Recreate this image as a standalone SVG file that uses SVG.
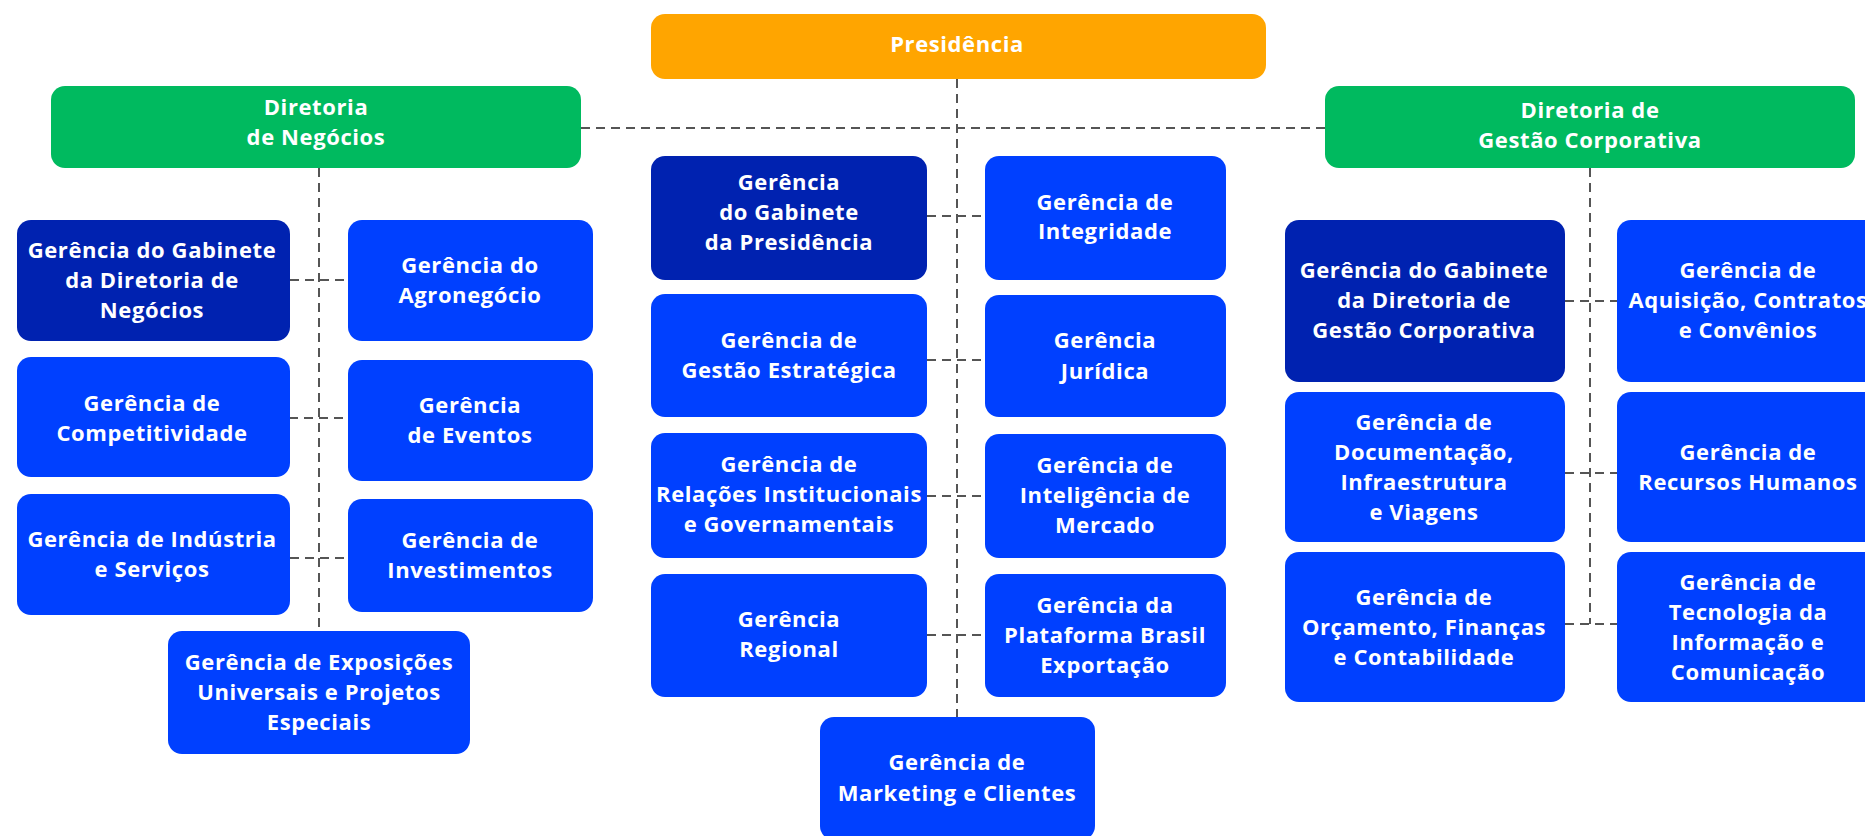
<svg xmlns="http://www.w3.org/2000/svg" width="1865" height="836" viewBox="0 0 1865 836">
<style>
.t{font-family:"Open Sans","Liberation Sans",sans-serif;font-weight:700;font-size:22px;fill:#fff;text-anchor:middle;letter-spacing:0.6px}
.or{fill:#FFA500}.gr{fill:#00BA5F}.dk{fill:#0022B0}.bl{fill:#0040FF}
.c{stroke:#555;stroke-width:2;stroke-dasharray:9 6;fill:none}
</style>
<rect width="1865" height="836" fill="#fff"/>
<g id="connectors">
<path class="c" d="M581 128H1325"/>
<path class="c" d="M957 79V717"/>
<path class="c" d="M927 216H985M927 360H985M927 496H985M927 635H985"/>
<path class="c" d="M319 168V631"/>
<path class="c" d="M290 280H348M289 418H348M290 558H348"/>
<path class="c" d="M1590 168V624"/>
<path class="c" d="M1565 301H1617M1565 473H1617M1565 624H1617"/>
</g>
<g id="presidencia"><rect class="or" x="651" y="14" width="615" height="65" rx="14"/><text class="t" x="957" y="52">Presidência</text></g>
<g id="dir-negocios"><rect class="gr" x="51" y="86" width="530" height="82" rx="14"/><text class="t" x="316" y="115">Diretoria</text><text class="t" x="316" y="145">de Negócios</text></g>
<g id="dir-gestao"><rect class="gr" x="1325" y="86" width="530" height="82" rx="14"/><text class="t" x="1590" y="118">Diretoria de</text><text class="t" x="1590" y="148">Gestão Corporativa</text></g>

<g id="gab-dir-negocios"><rect class="dk" x="17" y="220" width="273" height="121" rx="14"/><text class="t" x="152" y="258">Gerência do Gabinete</text><text class="t" x="152" y="288">da Diretoria de</text><text class="t" x="152" y="318">Negócios</text></g>
<g id="agronegocio"><rect class="bl" x="348" y="220" width="245" height="121" rx="14"/><text class="t" x="470" y="273">Gerência do</text><text class="t" x="470" y="303">Agronegócio</text></g>
<g id="competitividade"><rect class="bl" x="17" y="357" width="273" height="120" rx="14"/><text class="t" x="152" y="411">Gerência de</text><text class="t" x="152" y="441">Competitividade</text></g>
<g id="eventos"><rect class="bl" x="348" y="360" width="245" height="121" rx="14"/><text class="t" x="470" y="413">Gerência</text><text class="t" x="470" y="443">de Eventos</text></g>
<g id="industria"><rect class="bl" x="17" y="494" width="273" height="121" rx="14"/><text class="t" x="152" y="547">Gerência de Indústria</text><text class="t" x="152" y="577">e Serviços</text></g>
<g id="investimentos"><rect class="bl" x="348" y="499" width="245" height="113" rx="14"/><text class="t" x="470" y="548">Gerência de</text><text class="t" x="470" y="578">Investimentos</text></g>
<g id="exposicoes"><rect class="bl" x="168" y="631" width="302" height="123" rx="14"/><text class="t" x="319" y="670">Gerência de Exposições</text><text class="t" x="319" y="700">Universais e Projetos</text><text class="t" x="319" y="730">Especiais</text></g>

<g id="gab-presidencia"><rect class="dk" x="651" y="156" width="276" height="124" rx="14"/><text class="t" x="789" y="190">Gerência</text><text class="t" x="789" y="220">do Gabinete</text><text class="t" x="789" y="250">da Presidência</text></g>
<g id="integridade"><rect class="bl" x="985" y="156" width="241" height="124" rx="14"/><text class="t" x="1105" y="210">Gerência de</text><text class="t" x="1105" y="239">Integridade</text></g>
<g id="gestao-estrategica"><rect class="bl" x="651" y="294" width="276" height="123" rx="14"/><text class="t" x="789" y="348">Gerência de</text><text class="t" x="789" y="378">Gestão Estratégica</text></g>
<g id="juridica"><rect class="bl" x="985" y="295" width="241" height="122" rx="14"/><text class="t" x="1105" y="348">Gerência</text><text class="t" x="1105" y="379">Jurídica</text></g>
<g id="relacoes"><rect class="bl" x="651" y="433" width="276" height="125" rx="14"/><text class="t" x="789" y="472">Gerência de</text><text class="t" x="789" y="502">Relações Institucionais</text><text class="t" x="789" y="532">e Governamentais</text></g>
<g id="inteligencia"><rect class="bl" x="985" y="434" width="241" height="124" rx="14"/><text class="t" x="1105" y="473">Gerência de</text><text class="t" x="1105" y="503">Inteligência de</text><text class="t" x="1105" y="533">Mercado</text></g>
<g id="regional"><rect class="bl" x="651" y="574" width="276" height="123" rx="14"/><text class="t" x="789" y="627">Gerência</text><text class="t" x="789" y="657">Regional</text></g>
<g id="plataforma"><rect class="bl" x="985" y="574" width="241" height="123" rx="14"/><text class="t" x="1105" y="613">Gerência da</text><text class="t" x="1105" y="643">Plataforma Brasil</text><text class="t" x="1105" y="673">Exportação</text></g>
<g id="marketing"><rect class="bl" x="820" y="717" width="275" height="123" rx="14"/><text class="t" x="957" y="770">Gerência de</text><text class="t" x="957" y="801">Marketing e Clientes</text></g>

<g id="gab-dir-gestao"><rect class="dk" x="1285" y="220" width="280" height="162" rx="14"/><text class="t" x="1424" y="278">Gerência do Gabinete</text><text class="t" x="1424" y="308">da Diretoria de</text><text class="t" x="1424" y="338">Gestão Corporativa</text></g>
<g id="aquisicao"><rect class="bl" x="1617" y="220" width="262" height="162" rx="14"/><text class="t" x="1748" y="278">Gerência de</text><text class="t" x="1748" y="308">Aquisição, Contratos</text><text class="t" x="1748" y="338">e Convênios</text></g>
<g id="documentacao"><rect class="bl" x="1285" y="392" width="280" height="150" rx="14"/><text class="t" x="1424" y="430">Gerência de</text><text class="t" x="1424" y="460">Documentação,</text><text class="t" x="1424" y="490">Infraestrutura</text><text class="t" x="1424" y="520">e Viagens</text></g>
<g id="recursos-humanos"><rect class="bl" x="1617" y="392" width="262" height="150" rx="14"/><text class="t" x="1748" y="460">Gerência de</text><text class="t" x="1748" y="490">Recursos Humanos</text></g>
<g id="orcamento"><rect class="bl" x="1285" y="552" width="280" height="150" rx="14"/><text class="t" x="1424" y="605">Gerência de</text><text class="t" x="1424" y="635">Orçamento, Finanças</text><text class="t" x="1424" y="665">e Contabilidade</text></g>
<g id="tecnologia"><rect class="bl" x="1617" y="552" width="262" height="150" rx="14"/><text class="t" x="1748" y="590">Gerência de</text><text class="t" x="1748" y="620">Tecnologia da</text><text class="t" x="1748" y="650">Informação e</text><text class="t" x="1748" y="680">Comunicação</text></g>
</svg>
